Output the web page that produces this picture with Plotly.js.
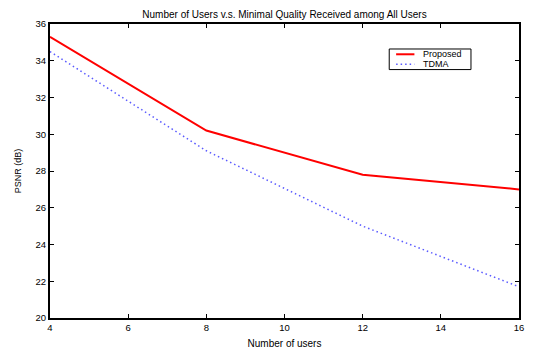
<!DOCTYPE html>
<html>
<head>
<meta charset="utf-8">
<script src="https://cdn.plot.ly/plotly-3.0.1.min.js"></script>
<style>html,body{margin:0;padding:0;background:#fff;}#chart{width:542px;height:349px;}</style>
</head>
<body>
<div id="chart"></div>
<script>
const users = [4, 8, 12, 16];
const proposed = [35.3, 30.2, 27.8, 27.0];
const tdma = [34.5, 29.1, 25.0, 21.7];
const xTicks = [4, 6, 8, 10, 12, 14, 16];
const yTicks = [20, 22, 24, 26, 28, 30, 32, 34, 36];
const seriesNames = ['Proposed', 'TDMA'];

const FONT = 'Liberation Sans, Arial, sans-serif';
const redLine = {color: '#ff0000', width: 2};
const blueLine = {color: '#5a5aff', width: 1.5, dash: '1.5px,3px'};

const traces = [
  {x: users, y: proposed, name: seriesNames[0], mode: 'lines', line: redLine},
  {x: users, y: tdma, name: seriesNames[1], mode: 'lines', line: blueLine}
];
const axisCommon = {
  showgrid: false, zeroline: false, showline: true, linecolor: '#000', linewidth: 2,
  mirror: 'ticks', ticks: 'inside', ticklen: 4, tickcolor: '#000', tickwidth: 1,
  tickfont: {family: FONT, size: 9.5, color: '#000'}
};
// manual legend box (MATLAB style)
const lx0 = 0.7233, lx1 = 0.8976, ly0 = 0.845, ly1 = 0.915;
const rowY = [0.897, 0.863];
const layout = {
  width: 542, height: 349,
  margin: {l: 50, r: 23, t: 24, b: 31},
  paper_bgcolor: '#fff', plot_bgcolor: '#fff',
  title: {text: 'Number of Users v.s. Minimal Quality Received among All Users',
          font: {family: FONT, size: 10, color: '#000'},
          x: 0.5, xanchor: 'center', y: 0.958, yanchor: 'middle', xref: 'paper'},
  xaxis: Object.assign({}, axisCommon, {range: [4, 16], tickvals: xTicks, ticktext: xTicks.map(String),
          title: {text: 'Number of users', font: {family: FONT, size: 10, color: '#000'}, standoff: 9}}),
  yaxis: Object.assign({}, axisCommon, {range: [20, 36], tickvals: yTicks, ticktext: yTicks.map(String),
          title: {text: 'PSNR (dB)', font: {family: FONT, size: 9, color: '#000'}, standoff: 12}}),
  showlegend: false,
  shapes: [
    {type: 'rect', xref: 'paper', yref: 'paper', x0: lx0, x1: lx1, y0: ly0, y1: ly1,
     line: {color: '#000', width: 1}, fillcolor: '#fff', layer: 'above'},
    {type: 'line', xref: 'paper', yref: 'paper', x0: 0.738, x1: 0.777, y0: rowY[0], y1: rowY[0], line: redLine, layer: 'above'},
    {type: 'line', xref: 'paper', yref: 'paper', x0: 0.738, x1: 0.777, y0: rowY[1], y1: rowY[1], line: blueLine, layer: 'above'}
  ],
  annotations: seriesNames.map((n, i) => ({
    text: n, xref: 'paper', yref: 'paper', x: 0.791, y: rowY[i], xanchor: 'left', yanchor: 'middle',
    showarrow: false, font: {family: FONT, size: 9, color: '#000'}
  }))
};
Plotly.newPlot('chart', traces, layout, {displayModeBar: false, staticPlot: true});
</script>
</body>
</html>
